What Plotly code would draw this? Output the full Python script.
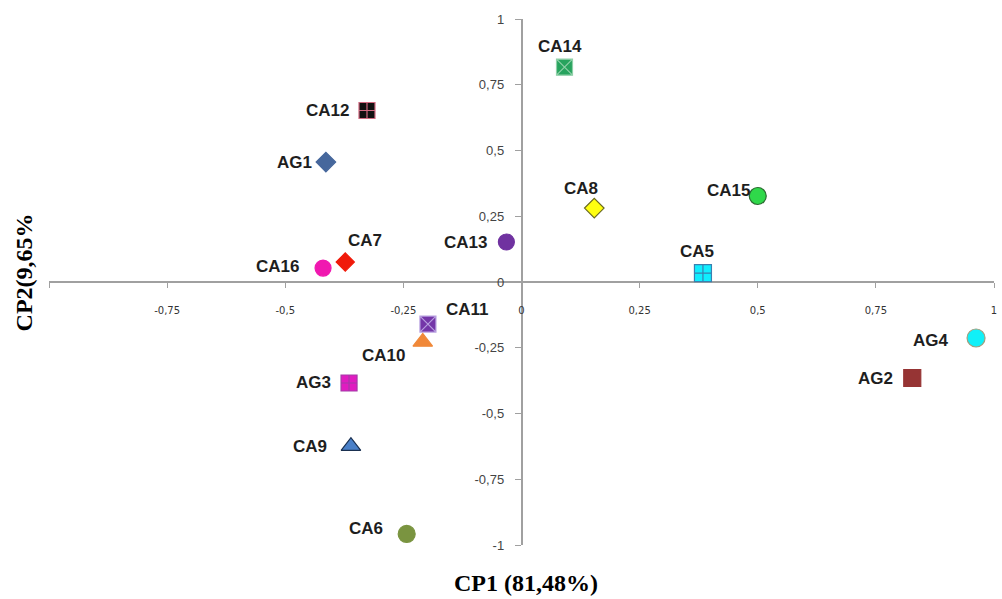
import plotly.graph_objects as go

# Principal-component scores for each sample
names = ["CA14", "CA12", "AG1", "CA8", "CA15", "CA13", "CA7", "CA16",
         "CA5", "CA11", "CA10", "AG3", "CA9", "CA6", "AG4", "AG2"]
cp1 = [0.091, -0.327, -0.414, 0.154, 0.500, -0.032, -0.373, -0.420,
       0.384, -0.198, -0.209, -0.365, -0.361, -0.243, 0.962, 0.827]
cp2 = [0.817, 0.652, 0.456, 0.281, 0.327, 0.152, 0.076, 0.053,
       0.034, -0.160, -0.228, -0.384, -0.624, -0.958, -0.213, -0.365]

tick_vals = [-1, -0.75, -0.5, -0.25, 0, 0.25, 0.5, 0.75, 1]
x_tick_text = ["", "-0,75", "-0,5", "-0,25", "0", "0,25", "0,5", "0,75", "1"]
y_tick_text = ["-1", "-0,75", "-0,5", "-0,25", "0", "0,25", "0,5", "0,75", "1"]

# marker style per sample: symbol, fill, outline, size
styles = {
    "CA14": ("square-x", "#27a35e", "#8fd0a8", 16),
    "CA12": ("square-cross", "#111111", "#d06a80", 16),
    "AG1": ("diamond", "#46679c", "#46679c", 15),
    "CA8": ("diamond", "#ffff10", "#6a6a20", 15),
    "CA15": ("circle", "#2fd84a", "#2a6a30", 17),
    "CA13": ("circle", "#7032a0", "#7032a0", 16),
    "CA7": ("diamond", "#f01a0a", "#f01a0a", 14),
    "CA16": ("circle", "#f018b0", "#f018b0", 16),
    "CA5": ("square-cross", "#10eeff", "#3a80b0", 17),
    "CA11": ("square-x", "#7436a8", "#b8a0e0", 16),
    "CA10": ("triangle-up", "#f08838", "#f08838", 17),
    "AG3": ("square-cross", "#e01cc0", "#a43aa8", 16),
    "CA9": ("triangle-up", "#4a80c8", "#1a3050", 17),
    "CA6": ("circle", "#7a9440", "#7a9440", 17),
    "AG4": ("circle", "#10f0f8", "#a0a080", 18),
    "AG2": ("square", "#963434", "#963434", 17),
}

# label offsets from each marker, in pixels (dx right, dy up)
label_offsets = {
    "CA14": (-5, 21), "CA12": (-39, 0), "AG1": (-31, 0), "CA8": (-13, 20),
    "CA15": (-29, 6), "CA13": (-41, 0), "CA7": (20, 22), "CA16": (-46, 2),
    "CA5": (-6, 22), "CA11": (40, 15), "CA10": (-39, -14), "AG3": (-36, 0),
    "CA9": (-41, 0), "CA6": (-41, 5), "AG4": (-45, -2), "AG2": (-37, 0),
}

fig = go.Figure()
annotations = []
for name, x, y in zip(names, cp1, cp2):
    sym, fill, edge, size = styles[name]
    fig.add_trace(go.Scatter(
        x=[x], y=[y], mode="markers", name=name, showlegend=False,
        marker=dict(symbol=sym, color=fill, size=size,
                    line=dict(color=edge, width=1.2)),
    ))
    dx, dy = label_offsets[name]
    annotations.append(dict(
        x=x, y=y, xref="x", yref="y", text="<b>" + name + "</b>", showarrow=False,
        xshift=dx, yshift=dy, xanchor="center", yanchor="middle",
        font=dict(family="Liberation Sans, Arial", size=17, color="#1e1e1e"),
    ))

annotations.append(dict(
    x=0.505, y=-0.072, xref="paper", yref="paper", text="<b>CP1 (81,48%)</b>",
    showarrow=False, xanchor="center", yanchor="middle",
    font=dict(family="Liberation Serif, Times New Roman", size=24, color="#000000"),
))
annotations.append(dict(
    x=-0.026, y=0.519, xref="paper", yref="paper", text="<b>CP2(9,65%</b>",
    showarrow=False, xanchor="center", yanchor="middle", textangle=-90,
    font=dict(family="Liberation Serif, Times New Roman", size=24, color="#000000"),
))

axis_common = dict(
    range=[-1, 1], domain=[0, 1], anchor="free", position=0.5,
    showline=True, linecolor="#a0a0a0", linewidth=1.5,
    ticks="outside", tickcolor="#a0a0a0", tickwidth=1,
    showgrid=False, zeroline=False, tickvals=tick_vals, layer="below traces",
)

fig.update_layout(
    width=1002, height=599,
    margin=dict(l=49, r=5, t=19, b=54),
    paper_bgcolor="white", plot_bgcolor="white",
    xaxis=dict(**axis_common, ticktext=x_tick_text, ticklen=5,
               ticklabelstandoff=14,
               tickfont=dict(family="DejaVu Sans, Verdana", size=10, color="#333333")),
    yaxis=dict(**axis_common, ticktext=y_tick_text, ticklen=6,
               ticklabelstandoff=8,
               tickfont=dict(family="Liberation Sans, Arial", size=13, color="#444444")),
    annotations=annotations,
)

fig.write_html("out.html")
